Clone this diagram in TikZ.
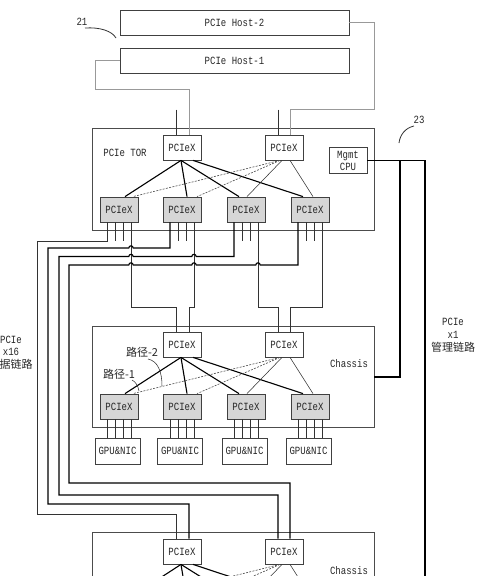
\documentclass[tikz,border=0pt]{standalone}
\usepackage{fontspec}
\setmainfont{Liberation Mono}[FakeStretch=0.82]
\newfontfamily\cjk{Noto Sans CJK SC}
\usetikzlibrary{calc}
\newcommand{\drawfan}[6]{%
  \draw[thk] ($(#1.south)+(-1,0)$) -- ($(#3.north)+(6,0)$);
  \draw[thk] ($(#1.south)+(-1,0)$) -- ($(#4.north)+(5,0)$);
  \draw[thk] ($(#1.south)+(-1,0)$) -- ($(#5.north)+(-7,0)$);
  \draw[thk] ($(#1.south)+(11,0)$) -- ($(#6.north)+(-7,0)$);
  \draw[dsh] ($(#2.south)+(-4,0)$) -- ($(#3.north)+(14,0)$);
  \draw[dsh] ($(#2.south)+(-4,0)$) -- ($(#4.north)+(15,0)$);
  \draw[thn] ($(#2.south)+(-2,0)$) -- ($(#5.north)+(1,0)$);
  \draw[thn] ($(#2.south)+(6,0)$) -- ($(#6.north)+(3,0)$);
}
\begin{document}
\begin{tikzpicture}[x=1pt,y=-1pt,
  txt/.style={font=\fontsize{11}{12}\selectfont, text=black!85},
  box/.style={draw=black!75, line width=0.8pt, inner sep=0pt, minimum height=25pt, txt},
  sw/.style={box, minimum width=38pt, fill=white},
  swg/.style={box, minimum width=38pt, fill=black!16},
  frame/.style={draw=black!70, line width=0.8pt, inner sep=0pt},
  ghost/.style={inner sep=0pt, minimum width=38pt, minimum height=25pt},
  ln/.style={draw=black!80, line width=0.8pt},
  thk/.style={draw=black, line width=1.1pt},
  gln/.style={draw=black!40, line width=0.8pt},
  dsh/.style={draw=black!70, line width=0.6pt, dash pattern=on 2pt off 1.3pt},
  thn/.style={draw=black!80, line width=0.55pt},
  lbl/.style={txt, inner sep=0pt}
]
\useasboundingbox (0,0) rectangle (500,576);
\clip (0,0) rectangle (500,576);

% hosts
\node[box, minimum width=229pt] (host2) at (234.5,22.5) {PCIe Host-2};
\node[box, minimum width=229pt] (host1) at (234.5,60.5) {PCIe Host-1};
\node[lbl] (n21) at (82,22) {21};
\coordinate (n21e) at (116,38);
\draw[ln] (85,28) .. controls (100,27) and (112,31) .. (n21e);

% frames
\node[frame, minimum width=282pt, minimum height=102pt] (tor) at (233,179) {};
\node[frame, minimum width=282pt, minimum height=101pt] (ch1) at (233,376.5) {};
\node[frame, minimum width=282pt, minimum height=101pt] (ch2) at (233,582.5) {};
\node[lbl] (torl) at (125,153) {PCIe TOR};
\node[lbl] (chl1) at (349,364) {Chassis};
\node[lbl] (chl2) at (349,571) {Chassis};

% TOR boxes
\node[sw] (tu1) at (182,147.5) {PCIeX};
\node[sw] (tu2) at (284,147.5) {PCIeX};
\node[box, minimum width=38pt, minimum height=26pt, align=center] (mgmt) at (348,160.5) {Mgmt\\CPU};
\foreach \i/\x in {1/119,2/182,3/246,4/310}
  \node[swg] (tl\i) at (\x,209.5) {PCIeX};

% chassis 1
\node[sw] (cu1) at (182,344.5) {PCIeX};
\node[sw] (cu2) at (284,344.5) {PCIeX};
\foreach \i/\x in {1/119,2/182,3/246,4/310}
  \node[swg] (cl\i) at (\x,406.5) {PCIeX};
\foreach \i/\x in {1/117.5,2/180,3/244.5,4/308.5}
  \node[box, minimum width=45pt, minimum height=26pt] (gpu\i) at (\x,451) {GPU\&NIC};

% chassis 2
\node[sw] (bu1) at (182,551.5) {PCIeX};
\node[sw] (bu2) at (284,551.5) {PCIeX};
\foreach \i/\x in {1/119,2/182,3/246,4/310}
  \node[ghost] (bl\i) at (\x,613.5) {};

% fans
\drawfan{tu1}{tu2}{tl1}{tl2}{tl3}{tl4}
\drawfan{cu1}{cu2}{cl1}{cl2}{cl3}{cl4}
\drawfan{bu1}{bu2}{bl1}{bl2}{bl3}{bl4}

% host links
\draw[gln] (host1.west) -- (95,60.5) |- ($(tu1.north)+(7,-45)$) -- ($(tu1.north)+(7,0)$);
\draw[gln] (host2.east) -- (374,22.5) |- ($(tu2.north)+(6,-25)$) -- ($(tu2.north)+(6,0)$);
\draw[ln] ($(tu1.north)+(-6,-25)$) -- ($(tu1.north)+(-6,0)$);
\draw[ln] ($(tu2.north)+(-6,-25)$) -- ($(tu2.north)+(-6,0)$);

% stubs under TOR lower switches
\foreach \i in {1,...,4}{
  \foreach \o in {-4,4}{
    \path ($(tl\i.south)+(\o,0)$) coordinate (p);
    \draw[ln] (p) -- ++(0,19);
  }
}
% lines to GPU&NIC
\foreach \i in {1,...,4}{
  \foreach \o in {-12,-4,4,12}{
    \path ($(cl\i.south)+(\o,0)$) coordinate (p);
    \draw[ln] (p) -- (p |- gpu\i.north);
  }
}
% links to chassis 1
\draw[ln] ($(tl1.south)+(12,0)$) -- (131,307) -| ($(cu1.north)+(-6,0)$);
\draw[ln] ($(tl2.south)+(12,0)$) -- (194,307) -| ($(cu1.north)+(7,0)$);
\draw[ln] ($(tl3.south)+(12,0)$) -- (258,307) -| ($(cu2.north)+(-6,0)$);
\draw[ln] ($(tl4.south)+(12,0)$) -- (322,307) -| ($(cu2.north)+(6,0)$);

% links to chassis 2
\draw[ln] ($(tl1.south)+(-12,0)$) |- (37,241) -- (37,514) -| ($(bu1.north)+(-6,0)$);
\draw[thk] ($(tl2.south)+(-12,0)$) -- (170,248)
  -- (133.2,248) .. controls (133.2,245.1) and (128.8,245.1) .. (128.8,248)
  -- (48,248) -- (48,504) -| ($(bu1.north)+(7,0)$);
\draw[thk] ($(tl3.south)+(-12,0)$) -- (234,256.5)
  -- (196.2,256.5) .. controls (196.2,253.6) and (191.8,253.6) .. (191.8,256.5)
  -- (133.2,256.5) .. controls (133.2,253.6) and (128.8,253.6) .. (128.8,256.5)
  -- (59,256.5) -- (59,495) -| ($(bu2.north)+(-6,0)$);
\draw[thk] ($(tl4.south)+(-12,0)$) -- (298,265)
  -- (260.2,265) .. controls (260.2,262.1) and (255.8,262.1) .. (255.8,265)
  -- (196.2,265) .. controls (196.2,262.1) and (191.8,262.1) .. (191.8,265)
  -- (133.2,265) .. controls (133.2,262.1) and (128.8,262.1) .. (128.8,265)
  -- (69,265) -- (69,483) -| ($(bu2.north)+(6,0)$);

% management links
\coordinate (mbot) at (425,590);
\draw[thk] (mgmt.east) -- (425,160.5) -- (mbot);
\draw[thk] (400,160.5) -- (400,377) -- (ch1.east |- 0,377);
\node[lbl] (n23) at (419,120) {23};
\coordinate (n23e) at (399,143);
\draw[ln] (414,126) .. controls (405,128) and (400,135) .. (n23e);

% side labels
\node[lbl, align=center, font=\fontsize{11}{13}\selectfont] (rl) at (453,335) {PCIe\\x1\\{\cjk 管理链路}};
\node[lbl, align=center] (ll1) at (11,346) {PCIe\\x16};
\node[lbl] (ll2) at (16,364) {\cjk 据链路};

% path labels
\node[lbl] (p2) at (142,352) {\cjk 路径-2};
\node[lbl] (p1) at (119,374) {\cjk 路径-1};
\coordinate (p2e) at (162,386);
\coordinate (p1e) at (139,391);
\draw[thn] (148,359) .. controls (158,361) and (162,372) .. (p2e);
\draw[thn] (132,380) .. controls (136,382) and (138,386) .. (p1e);
\end{tikzpicture}
\end{document}
